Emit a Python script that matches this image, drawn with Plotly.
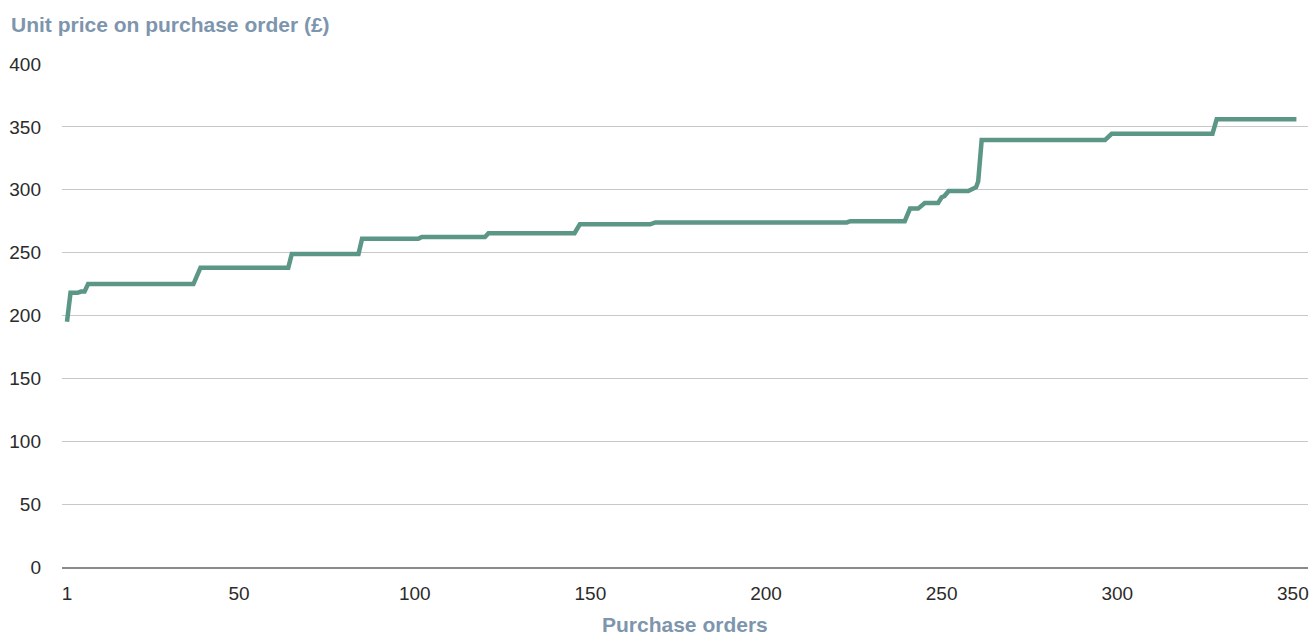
import plotly.graph_objects as go

# Purchase order index (sorted by unit price) at each change of price level
order_no = [1, 2, 4, 5, 6, 7, 37, 39, 64, 65, 84, 85, 101, 102, 120, 121,
            145.5, 147, 167, 168.5, 223, 224, 239.5, 241, 243.3, 245.2,
            249, 250, 250.8, 252, 257.6, 259, 259.8, 260.4, 261.4,
            296.5, 298.4, 327.1, 328.3, 351]
# Unit price on purchase order (£)
unit_price = [195, 218, 218, 219, 219, 225, 225, 238, 238, 249, 249, 261, 261,
              262.5, 262.5, 265.5, 265.5, 272.5, 272.5, 274, 274, 275, 275,
              285, 285, 289.5, 289.5, 294, 295, 299, 299, 301, 302, 306.5,
              339.5, 339.5, 344.5, 344.5, 356, 356]

x_ticks = [1, 50, 100, 150, 200, 250, 300, 350]
y_ticks = [0, 50, 100, 150, 200, 250, 300, 350, 400]

title_color = "#7d95ad"
tick_font = dict(family="Liberation Sans, Arial, sans-serif", size=19, color="#2b2b2b")

fig = go.Figure()
fig.add_trace(go.Scatter(
    x=order_no, y=unit_price, mode="lines",
    line=dict(color="#5c9686", width=4.5),
    hoverinfo="x+y", showlegend=False,
))

fig.update_layout(
    width=1309, height=637,
    margin=dict(l=62, r=1, t=64, b=70),
    paper_bgcolor="white", plot_bgcolor="white",
    xaxis=dict(
        range=[-0.42, 354.3], tickmode="array", tickvals=x_ticks,
        ticktext=[str(v) for v in x_ticks],
        showgrid=False, zeroline=False,
        showline=True, linecolor="#8a8a8a", linewidth=1.5,
        ticks="", tickfont=tick_font, ticklabelstandoff=8,
        ticklabeloverflow="allow",
    ),
    yaxis=dict(
        range=[0, 400], tickmode="array", tickvals=y_ticks,
        showgrid=True, gridcolor="#c8c8c8", gridwidth=1,
        zeroline=False, showline=False,
        ticks="", tickfont=tick_font, ticklabelstandoff=20,
    ),
    annotations=[
        dict(text="<b>Unit price on purchase order (£)</b>",
             xref="paper", yref="paper",
             x=(10 - 62) / 1246, y=1 + (64 - 24) / 503,
             xanchor="left", yanchor="middle", showarrow=False, borderpad=0,
             font=dict(family="Liberation Sans, Arial, sans-serif", size=21, color=title_color)),
        dict(text="<b>Purchase orders</b>",
             xref="paper", yref="paper",
             x=0.5, y=-(624.5 - 567) / 503,
             xanchor="center", yanchor="middle", showarrow=False, borderpad=0,
             font=dict(family="Liberation Sans, Arial, sans-serif", size=21, color=title_color)),
    ],
)

fig.write_html(
    "out.html",
    config={"displayModeBar": False},
    post_script="document.body.style.margin='0';document.body.style.overflow='hidden';",
)
